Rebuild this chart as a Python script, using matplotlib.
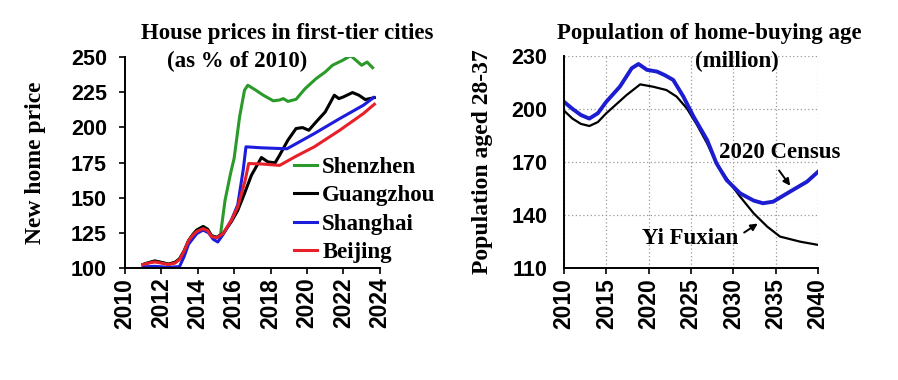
import matplotlib
matplotlib.use("Agg")
import matplotlib.pyplot as plt

SERIF = "Liberation Serif"
SANS = "Liberation Sans"

# ---- left panel: new home prices, % of 2010 ----
early_years = [2011.0, 2011.3, 2011.65, 2012.0, 2012.4, 2012.75, 2013.0, 2013.25, 2013.5,
               2013.75, 2013.95, 2014.3, 2014.55, 2014.75, 2015.05, 2015.25]
early_vals = [102.5, 103.8, 105.0, 104.0, 102.8, 104.0, 106.5, 112.0, 119.5,
              124.0, 127.0, 129.5, 127.5, 123.0, 121.8, 123.5]

shenzhen_years = early_years + [2015.5, 2015.8, 2016.0, 2016.3, 2016.57, 2016.75, 2017.2, 2017.6,
                                2018.15, 2018.5, 2018.7, 2018.95, 2019.4, 2019.9, 2020.5, 2021.0,
                                2021.4, 2021.95, 2022.4, 2022.8, 2023.0, 2023.3, 2023.6]
shenzhen_vals = early_vals + [148, 167, 178, 207.5, 226.4, 230, 226.4, 222.9,
                              218.9, 219.5, 220.5, 218.5, 220, 227.6, 234.7, 239.4,
                              244.2, 247.7, 251.0, 246.5, 244.2, 246.5, 242.5]

guangzhou_years = early_years + [2015.4, 2015.85, 2016.2, 2016.5, 2016.95, 2017.5, 2017.85, 2018.25,
                                 2018.5, 2018.95, 2019.4, 2019.75, 2020.1, 2020.5, 2021.0, 2021.5,
                                 2021.75, 2022.0, 2022.5, 2022.85, 2023.2, 2023.7]
guangzhou_vals = early_vals + [124.6, 133, 141, 150.7, 166, 178.6, 175.5, 174.8,
                               180.3, 190.9, 199.2, 199.9, 198, 203.9, 211, 222.9,
                               220.5, 221.7, 224.8, 222.9, 219.8, 221.2]

shanghai_years = [2011.0, 2011.65, 2012.4, 2013.0, 2013.25, 2013.5, 2013.95, 2014.3, 2014.6,
                  2014.85, 2015.1, 2015.4, 2015.85, 2016.2, 2016.5, 2016.65, 2017.5, 2018.9,
                  2020.4, 2021.8, 2023.1, 2023.65]
shanghai_vals = [100.8, 101.2, 100.5, 101, 108, 117, 124.5, 127, 125,
                 120.5, 118.5, 124, 134, 145, 170, 186.2, 185.5, 184.8,
                 195.6, 206.3, 215.8, 221.2]

beijing_years = [2011.0, 2011.3, 2011.65, 2012.0, 2012.4, 2012.75, 2013.0, 2013.25, 2013.5,
                 2013.75, 2013.95, 2014.3, 2014.55, 2014.75, 2015.05, 2015.4, 2015.85, 2016.2,
                 2016.6, 2016.8, 2017.5, 2018.5, 2019.4, 2020.4, 2021.8, 2023.1, 2023.7]
beijing_vals = [102.5, 103.5, 104.3, 103.5, 102.5, 103.5, 106.0, 112.0, 119.5,
                123.5, 126.0, 128.0, 126.5, 122.5, 121.5, 124.6, 134, 143.5,
                162, 174.3, 174.0, 173.0, 179.5, 186.2, 198, 209.9, 216.5]

price_ticks = [100, 125, 150, 175, 200, 225, 250]
price_years = [2010, 2012, 2014, 2016, 2018, 2020, 2022, 2024]

# ---- right panel: population aged 28-37, million ----
census_years = [2010, 2011, 2012, 2013, 2014, 2015, 2016.6, 2018, 2018.8, 2019.8, 2021, 2021.9,
                2022.9, 2024.1, 2025.3, 2026.9, 2028, 2029.2, 2030.8, 2032.4, 2033.5, 2034.7,
                2036.7, 2038.7, 2040]
census_vals = [204, 200, 196.5, 194.5, 197.5, 204, 212.5, 222.9, 225.3, 222, 221, 219,
               216.3, 206.9, 195.6, 182.4, 169.3, 159.8, 152.3, 148.2, 146.7, 147.6,
               153.3, 158.9, 164.5]

yi_years = [2010, 2011, 2012, 2013, 2014, 2015, 2017.4, 2019, 2020.5, 2022.1, 2023.3, 2024.5,
            2025.7, 2026.9, 2028, 2029.6, 2030.8, 2032.4, 2034, 2035.5, 2037.9, 2040]
yi_vals = [199, 194.5, 191.5, 190.3, 192.5, 197.5, 207.8, 213.8, 212.5, 210.6, 206.9, 200.3,
           191, 180.5, 169.3, 158, 150.4, 141, 133.5, 127.9, 125, 123.2]

pop_ticks = [110, 140, 170, 200, 230]
pop_years = [2010, 2015, 2020, 2025, 2030, 2035, 2040]

fig = plt.figure(figsize=(8.98, 3.8), dpi=100)

# left panel
ax1 = fig.add_axes([0.139, 0.2947, 0.284, 0.555])
ax1.plot(shenzhen_years, shenzhen_vals, color="#2a9a2a", lw=2.2, label="Shenzhen")
ax1.plot(guangzhou_years, guangzhou_vals, color="black", lw=2.2, label="Guangzhou")
ax1.plot(shanghai_years, shanghai_vals, color="#1c1cdc", lw=2.2, label="Shanghai")
ax1.plot(beijing_years, beijing_vals, color="#e8202a", lw=2.2, label="Beijing")
ax1.set_xlim(2010, 2024)
ax1.set_ylim(100, 250)
ax1.set_xticks(price_years)
ax1.set_yticks(price_ticks)
ax1.set_ylabel("New home price", fontfamily=SERIF, fontweight="bold", fontsize=17)
ax1.yaxis.set_label_coords(-0.31, 0.5)
ax1.tick_params(axis="y", length=4, width=1.2, pad=9)
ax1.legend(loc="upper left", bbox_to_anchor=(0.327, 0.588), bbox_transform=fig.transFigure,
           frameon=False, prop=dict(family=SERIF, weight="bold", size=16.5),
           handlelength=1.0, handletextpad=0.25, labelspacing=0.33, borderpad=0, borderaxespad=0)

# right panel
ax2 = fig.add_axes([0.628, 0.294, 0.283, 0.5595])
ax2.plot(yi_years, yi_vals, color="black", lw=1.6)
ax2.plot(census_years, census_vals, color="#1c1cd0", lw=2.8)
ax2.set_xlim(2010, 2040)
ax2.set_ylim(110, 230)
ax2.set_xticks(pop_years)
ax2.set_yticks(pop_ticks)
ax2.grid(True, color="#999999", linestyle=(0, (1, 2)), lw=0.9)
ax2.set_ylabel("Population aged 28-37", fontfamily=SERIF, fontweight="bold", fontsize=17)
ax2.yaxis.set_label_coords(-0.28, 0.5)
ax2.tick_params(axis="y", length=0, pad=12)
ax2.text(2035.5, 175.6, "2020 Census", fontfamily=SERIF, fontweight="bold", fontsize=16.5,
         ha="center", va="center")
ax2.annotate("", xy=(2036.9, 155.3), xytext=(2035.2, 166.5),
             arrowprops=dict(arrowstyle="-|>", color="black", lw=1.4, mutation_scale=10))
ax2.text(2024.9, 127, "Yi Fuxian", fontfamily=SERIF, fontweight="bold", fontsize=16.5,
         ha="center", va="center")
ax2.annotate("", xy=(2033.15, 136.1), xytext=(2031.0, 129.3),
             arrowprops=dict(arrowstyle="-|>", color="black", lw=1.4, mutation_scale=10))

for ax in (ax1, ax2):
    for side in ("top", "right"):
        ax.spines[side].set_visible(False)
    ax.spines["left"].set_linewidth(1.4)
    ax.spines["bottom"].set_linewidth(1.4)
    ax.tick_params(axis="x", length=4, width=1.2, direction="out", pad=3)
    for lab in ax.get_xticklabels():
        lab.set_rotation(90)
        lab.set_fontsize(16.5)
    for lab in ax.get_yticklabels():
        lab.set_fontsize(15.5)
    for lab in ax.get_xticklabels() + ax.get_yticklabels():
        lab.set_fontfamily(SANS)
        lab.set_fontweight("bold")

fig.text(0.32, 0.913, "House prices in first-tier cities", fontfamily=SERIF, fontweight="bold",
         fontsize=16.5, ha="center", va="center")
fig.text(0.264, 0.837, "(as % of 2010)", fontfamily=SERIF, fontweight="bold",
         fontsize=16.5, ha="center", va="center")
fig.text(0.79, 0.913, "Population of home-buying age", fontfamily=SERIF, fontweight="bold",
         fontsize=16.5, ha="center", va="center")
fig.text(0.821, 0.837, "(million)", fontfamily=SERIF, fontweight="bold",
         fontsize=16.5, ha="center", va="center")

fig.savefig("out.png", dpi=100)
